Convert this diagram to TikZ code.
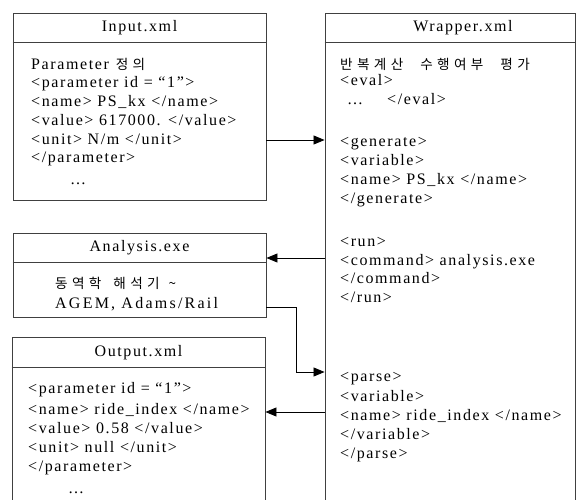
\documentclass[tikz,border=0pt]{standalone}
\usepackage{fontspec}
\setmainfont{Liberation Serif}[LetterSpace=10]
\newfontfamily\kr{Noto Sans CJK KR}[Scale=0.85,LetterSpace=32]
\usetikzlibrary{arrows.meta}
\begin{document}
\begin{tikzpicture}[x=1pt,y=-1pt,
  box/.style={draw=black!75,line width=0.9pt,fill=white,rectangle,inner sep=0pt},
  ttl/.style={inner sep=0pt,font=\fontsize{16}{18}\selectfont},
  ln/.style={anchor=base west,inner sep=0pt,font=\fontsize{16}{18}\selectfont},
  hdr/.style={draw=black!75,line width=0.9pt},
  arr/.style={draw=black,line width=0.8pt,-{Triangle[length=11pt,width=9pt]}}]
\useasboundingbox (0,0) rectangle (576,500);
% boxes
\node[box,minimum width=253pt,minimum height=187pt] (input) at (139.5,106.5) {};
\node[box,minimum width=253pt,minimum height=84pt] (analysis) at (139.5,275) {};
\node[box,minimum width=253pt,minimum height=167pt] (output) at (138.5,420.5) {};
\node[box,minimum width=250pt,minimum height=491pt] (wrapper) at (450,258.5) {};
% header lines
\draw[hdr] ([yshift=-30pt]input.north west) -- ([yshift=-30pt]input.north east);
\draw[hdr] ([yshift=-30pt]analysis.north west) -- ([yshift=-30pt]analysis.north east);
\draw[hdr] ([yshift=-31pt]output.north west) -- ([yshift=-31pt]output.north east);
\draw[hdr] ([yshift=-30pt]wrapper.north west) -- ([yshift=-30pt]wrapper.north east);
% titles
\node[ttl] (inputT) at (139.5,28) {Input.xml};
\node[ttl] (analysisT) at (139.5,248) {Analysis.exe};
\node[ttl] (outputT) at (138.5,353) {Output.xml};
\node[ttl] (wrapperT) at (463,28) {Wrapper.xml};
% input text
\node[ln] (i1) at (31,70) {Parameter\hspace{7pt}{\kr 정의}};
\node[ln] (i2) at (31,88) {<parameter id = “1”>};
\node[ln] (i3) at (31,107) {<name> PS\_kx </name>};
\node[ln] (i4) at (31,126) {<value> 617000. </value>};
\node[ln] (i5) at (31,145) {<unit> N/m </unit>};
\node[ln] (i6) at (31,163) {</parameter>};
\node[ln] (i7) at (70,185) {…};
% analysis text
\node[ln] (a1) at (55,288) {{\kr 동역학\hspace{12pt}해석기\hspace{9pt}\textasciitilde}};
\node[ln,font=\fontsize{16}{18}\selectfont\addfontfeature{LetterSpace=14}] (a2) at (55,308) {AGEM,\ Adams/Rail};
% output text
\node[ln] (o1) at (28,393) {<parameter id = “1”>};
\node[ln] (o2) at (28,414) {<name> ride\_index </name>};
\node[ln] (o3) at (28,433) {<value> 0.58 </value>};
\node[ln] (o4) at (28,452) {<unit> null </unit>};
\node[ln] (o5) at (28,471) {</parameter>};
\node[ln] (o6) at (68,493) {…};
% wrapper text
\node[ln] (w1) at (340,70) {{\kr 반복계산\hspace{17pt}수행여부\hspace{17pt}평가}};
\node[ln] (w2) at (340,86) {<eval>};
\node[ln] (w3) at (347,105) {…};
\node[ln] (w3b) at (387,105) {</eval>};
\node[ln] (w4) at (340,147) {<generate>};
\node[ln] (w5) at (340,166) {<variable>};
\node[ln] (w6) at (340,185) {<name> PS\_kx </name>};
\node[ln] (w7) at (340,204) {</generate>};
\node[ln] (w8) at (340,246) {<run>};
\node[ln] (w9) at (340,265) {<command> analysis.exe};
\node[ln] (w10) at (340,283) {</command>};
\node[ln] (w11) at (340,302) {</run>};
\node[ln] (w12) at (340,381) {<parse>};
\node[ln] (w13) at (340,401) {<variable>};
\node[ln] (w14) at (340,420) {<name> ride\_index </name>};
\node[ln] (w15) at (340,439) {</variable>};
\node[ln] (w16) at (340,458) {</parse>};
% connectors
\coordinate (c1) at (0,140);
\coordinate (c2) at (0,258);
\coordinate (bend) at (296,307);
\coordinate (c4) at (0,372);
\coordinate (c5) at (0,412);
\draw[arr] (input.east |- c1) -- (wrapper.west |- c1);
\draw[arr] (wrapper.west |- c2) -- (analysis.east |- c2);
\draw[arr] (analysis.east |- bend) -- (bend) |- (wrapper.west |- c4);
\draw[arr] (wrapper.west |- c5) -- (output.east |- c5);
\end{tikzpicture}
\end{document}
